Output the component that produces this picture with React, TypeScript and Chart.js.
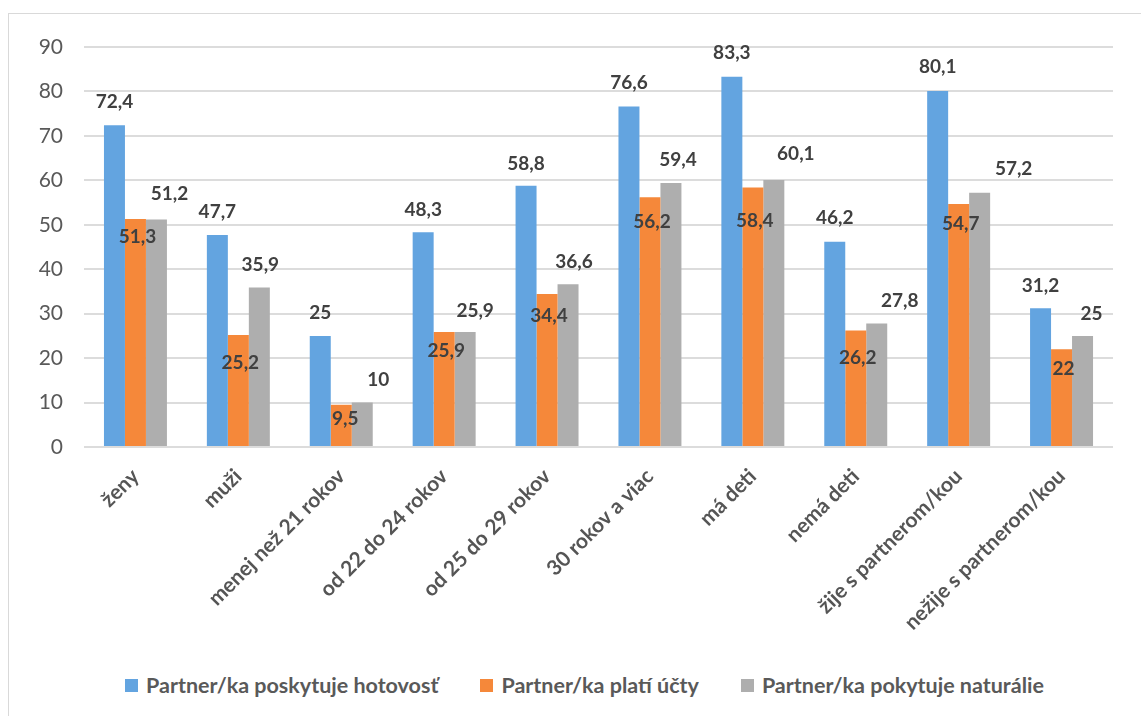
import React, { useEffect, useRef } from "react";
import { Chart, registerables } from "chart.js";

Chart.register(...registerables);

const categories = [
  "ženy",
  "muži",
  "menej než 21 rokov",
  "od 22 do 24 rokov",
  "od 25 do 29 rokov",
  "30 rokov a viac",
  "má deti",
  "nemá deti",
  "žije s partnerom/kou",
  "nežije s partnerom/kou",
];
const seriesNames = [
  "Partner/ka poskytuje hotovosť",
  "Partner/ka platí účty",
  "Partner/ka pokytuje naturálie",
];
const hotovost = [72.4, 47.7, 25, 48.3, 58.8, 76.6, 83.3, 46.2, 80.1, 31.2];
const ucty = [51.3, 25.2, 9.5, 25.9, 34.4, 56.2, 58.4, 26.2, 54.7, 22];
const naturalie = [51.2, 35.9, 10, 25.9, 36.6, 59.4, 60.1, 27.8, 57.2, 25];
const yMin = 0;
const yMax = 90;
const yStep = 10;

const colors = ["#63A4E0", "#F5883A", "#AEAEAE"];

// label placement (pixel offsets from the bar top) - styling only
const labelDx = [
  [0, 0, 0, 0, 0, 0, 0, 0, 0, 0],
  [2, 2, 4, 2, 2, 2, 2, 2, 2, 2],
  [13, 1, 16, 10, 6, 7, 22, 23, 34, 9],
];
const labelDy = [
  [-23, -23, -23, -22, -22, -24, -24, -24, -24, -22],
  [18, 28, 14, 19, 22, 25, 33, 27, 20, 20],
  [-26, -23, -23, -21, -22, -23, -26, -23, -24, -22],
];

const FONT = "Lato, 'Open Sans', sans-serif";
const W = 1141;
const H = 650;

const fmt = (v: number) => String(v).replace(".", ",");

const valueLabels = {
  id: "valueLabels",
  afterDatasetsDraw(chart: any) {
    const ctx = chart.ctx;
    ctx.save();
    ctx.font = `bold 19px ${FONT}`;
    ctx.fillStyle = "#404040";
    ctx.textAlign = "center";
    ctx.textBaseline = "middle";
    chart.data.datasets.forEach((ds: any, di: number) => {
      const meta = chart.getDatasetMeta(di);
      meta.data.forEach((bar: any, i: number) => {
        ctx.fillText(fmt(ds.data[i]), bar.x + labelDx[di][i], bar.y + labelDy[di][i]);
      });
    });
    ctx.restore();
  },
};

export default function App() {
  const ref = useRef<HTMLCanvasElement | null>(null);
  useEffect(() => {
    if (!ref.current) return;
    const chart = new Chart(ref.current, {
      type: "bar",
      data: {
        labels: categories,
        datasets: [hotovost, ucty, naturalie].map((d, i) => ({
          label: seriesNames[i],
          data: d,
          backgroundColor: colors[i],
          borderWidth: 0,
          categoryPercentage: 0.612,
          barPercentage: 1.0,
        })),
      },
      options: {
        responsive: false,
        animation: false,
        devicePixelRatio: 1,
        layout: { padding: { top: 47, right: 28, left: 0, bottom: 0 } },
        plugins: {
          legend: { display: false },
          tooltip: { enabled: false },
        },
        scales: {
          x: {
            grid: { display: false, drawTicks: false },
            border: { display: false },
            ticks: {
              minRotation: 45,
              maxRotation: 45,
              autoSkip: false,
              padding: 17,
              color: "#555555",
              font: { family: FONT, size: 21, weight: "bold" },
            },
            afterFit: (s: any) => {
              s.height = H - 447;
            },
          },
          y: {
            min: yMin,
            max: yMax,
            ticks: {
              stepSize: yStep,
              padding: 21,
              color: "#595959",
              font: { family: FONT, size: 21 },
            },
            grid: { color: "#dcdcdc", lineWidth: 2, drawTicks: false },
            border: { display: false },
            afterFit: (s: any) => {
              s.width = 84;
            },
          },
        },
      },
      plugins: [valueLabels],
    });
    return () => chart.destroy();
  }, []);

  return (
    <div style={{ position: "relative", width: W, height: 716 }}>
      <style>{`html,body{margin:0;padding:0;overflow:hidden;background:#fff}`}</style>
      <div
        style={{
          position: "absolute",
          left: 8,
          top: 13,
          width: 1150,
          height: 720,
          border: "1px solid #d9d9d9",
          boxSizing: "border-box",
        }}
      />
      <canvas
        ref={ref}
        width={W}
        height={H}
        style={{ position: "absolute", left: 0, top: 0, width: W, height: H }}
      />
      <div
        style={{
          position: "absolute",
          left: 125,
          top: 672,
          display: "flex",
          alignItems: "center",
          gap: 42,
          fontFamily: FONT,
          fontWeight: "bold",
          fontSize: 21.5,
          color: "#595959",
          whiteSpace: "nowrap",
        }}
      >
        {seriesNames.map((n, i) => (
          <div key={n} style={{ display: "flex", alignItems: "center" }}>
            <span
              style={{
                display: "inline-block",
                width: 13,
                height: 13,
                background: colors[i],
                marginRight: 8,
              }}
            />
            <span>{n}</span>
          </div>
        ))}
      </div>
    </div>
  );
}
